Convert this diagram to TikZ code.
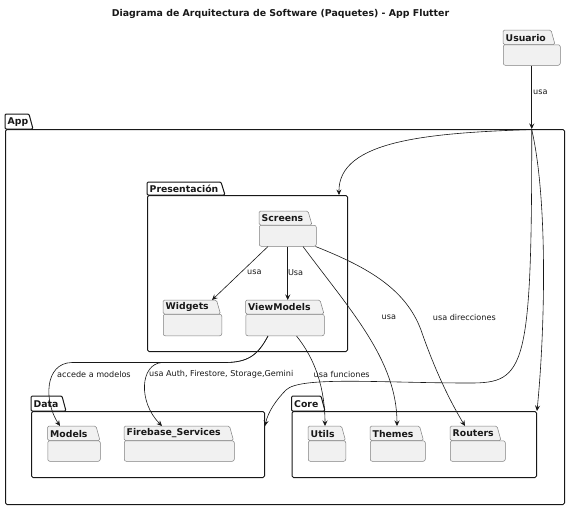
\documentclass[tikz,border=0pt]{standalone}
\usepackage{fontspec}
\setmainfont{DejaVu Sans}
\usetikzlibrary{arrows.meta}
\definecolor{pkgfill}{HTML}{F1F1F1}
\definecolor{ink}{HTML}{181818}
\tikzset{
  conn/.style={draw=ink, line width=0.6pt, -{Stealth[length=5.5pt,width=5pt,inset=2pt]}},
  leafbody/.style={draw=black!50, fill=pkgfill, line width=0.5pt, rounded corners=2pt, inner sep=0pt},
  leaftab/.style={draw=black!50, fill=pkgfill, line width=0.5pt, rounded corners=1.5pt},
  outerbody/.style={draw=ink, fill=white, line width=1pt, rounded corners=1.5pt, inner sep=0pt},
  outertab/.style={draw=ink, fill=white, line width=1pt, rounded corners=1.2pt},
  pkname/.style={font=\bfseries\fontsize{9.3}{11}\selectfont, inner sep=0pt, text=ink},
  lbl/.style={font=\fontsize{8.1}{9.5}\selectfont, inner sep=0pt, text=ink, anchor=west},
  ttl/.style={font=\bfseries\fontsize{9.4}{11}\selectfont, inner sep=0pt, text=ink}
}
% id, name, x1, ytab, xtabright, ybody, x2, ybottom, kind
\newcommand\pkgbox[9]{%
  \path[#9tab] (#3,#6) -- (#3,#4) -- (#5,#4) -- ({#5+4},#6) -- cycle;
  \node[#9body, anchor=north west, minimum width={(#7-#3)*1pt}, minimum height={(#8-#6)*1pt}] (#1) at (#3,#6) {};
  \coordinate (#1-tab) at (#3,#4);
  \node[pkname, anchor=west] (#1-name) at ({#3+2.5},{(#4+#6)/2+0.3}) {#2};
}
\begin{document}
\begin{tikzpicture}[x=1pt,y=-1pt]
\useasboundingbox (0,0) rectangle (567,509);
\node[ttl] (title) at (280.5,13.5) {Diagrama de Arquitectura de Software (Paquetes) - App Flutter};

% outer packages
\pkgbox{app}{App}{5}{114}{29}{129}{564}{504}{outer}
\pkgbox{pres}{Presentación}{147}{182}{221}{195}{347}{351}{outer}
\pkgbox{data}{Data}{31}{396}{62}{411}{264}{477}{outer}
\pkgbox{core}{Core}{291.5}{396}{321}{411}{536}{477}{outer}

% leaf packages
\pkgbox{usuario}{Usuario}{503}{30}{551}{44.5}{560}{65}{leaf}
\pkgbox{screens}{Screens}{259}{211}{308}{225}{316}{246}{leaf}
\pkgbox{widgets}{Widgets}{163}{300}{216.5}{314}{221.5}{335.5}{leaf}
\pkgbox{vm}{ViewModels}{245.5}{300}{320}{314}{324}{335.5}{leaf}
\pkgbox{models}{Models}{47.5}{426}{96}{440.5}{100}{461}{leaf}
\pkgbox{firebase}{Firebase\_Services}{124}{426}{229.5}{440.5}{234}{461}{leaf}
\pkgbox{utils}{Utils}{308}{426}{341.5}{440.5}{345.5}{461}{leaf}
\pkgbox{themes}{Themes}{370}{426}{419.5}{440.5}{425}{461}{leaf}
\pkgbox{routers}{Routers}{450}{426}{497}{440.5}{505}{461}{leaf}

% connectors
\coordinate (appin) at (531.7,129.5);
\draw[conn] (usuario.south) -- (usuario.south |- app.north);
\node[lbl] (l-usuario) at (533,92) {usa};

\draw[conn] (appin) .. controls (430,133) and (338,140) .. ([xshift=-9pt]pres.north east);
\draw[conn] (appin) .. controls (548,200) and (545,330) .. (core.north east);
\draw[conn] (appin) .. controls (532,370) and (525,383) .. (470,383)
   .. controls (380,383) and (300,376) .. (286,390)
   .. controls (276,400) and (268,412) .. ([yshift=-15pt]data.north east);

\draw[conn] ([xshift=9pt]screens.south west) -- ([xshift=49pt]widgets-tab);
\node[lbl] (l-widgets) at (247,272.5) {usa};
\draw[conn] (screens.south) -- (screens.south |- vm-tab);
\node[lbl] (l-vm) at (287.8,272.5) {Usa};
\draw[conn] ([xshift=44pt]screens.south west) .. controls (350,310) and (397,360) .. ([xshift=27pt]themes-tab);
\node[lbl] (l-themes) at (381.5,317.5) {usa};
\draw[conn] ([xshift=-1pt]screens.south east) .. controls (370,268) and (406,290) .. (421,330)
   .. controls (433,365) and (448,398) .. ([xshift=15pt]routers-tab);
\node[lbl] (l-routers) at (432.7,317.5) {usa direcciones};

\draw[conn] ([xshift=22.5pt]vm.south west) .. controls (258,355) and (248,362.5) .. (225,362.5)
   -- (72,362.5) .. controls (44,363) and (44,402) .. ([xshift=12.5pt]models-tab);
\node[lbl] (l-models) at (57,374.5) {accede a modelos};
\draw[conn] ([xshift=22.5pt]vm.south west) .. controls (258,355) and (248,362.5) .. (225,362.5)
   -- (162,362.5) .. controls (140,364) and (138,402) .. ([xshift=38pt]firebase-tab);
\node[lbl] (l-firebase) at (149,374.5) {usa Auth, Firestore, Storage,Gemini};
\draw[conn] ([xshift=51pt]vm.south west) .. controls (316,360) and (325,390) .. ([xshift=17pt]utils-tab);
\node[lbl] (l-utils) at (313.5,374.5) {usa funciones};
\end{tikzpicture}
\end{document}
